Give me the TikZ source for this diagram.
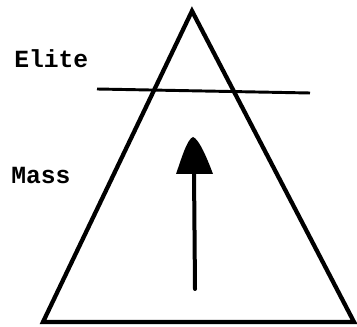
\documentclass[tikz,border=0pt]{standalone}
\usepackage{fontspec}
\setmonofont{Liberation Mono}
\begin{document}
\begin{tikzpicture}[x=0.75pt,y=-0.75pt,
  outline/.style={line width=3.2pt,line join=miter},
  divider/.style={line width=2.2pt},
  shaft/.style={line width=3pt,line cap=round},
  label/.style={font=\ttfamily\bfseries\fontsize{18.5}{20}\selectfont,anchor=base west,inner sep=0pt}]
\useasboundingbox (0,0) rectangle (357,327);
\coordinate (apex) at (192,11);
\coordinate (bl) at (43,322);
\coordinate (br) at (354,322);
\draw[outline] (apex) -- (bl) -- (br) -- cycle;
\coordinate (dl) at (97,89);
\coordinate (dr) at (310,93);
\draw[divider] (dl) -- (dr);
\node[label] (elite) at (14,68) {Elite};
\node[label] (mass) at (11,184) {Mass};
\coordinate (tail) at (195,289);
\coordinate (headbase) at (194,172);
\coordinate (tip) at (193,137);
\draw[shaft] (tail) -- (headbase);
\fill (176,174) .. controls (181,160) and (187,139) .. (tip)
  .. controls (199,139) and (207,158) .. (213,174) -- cycle;
\end{tikzpicture}
\end{document}
